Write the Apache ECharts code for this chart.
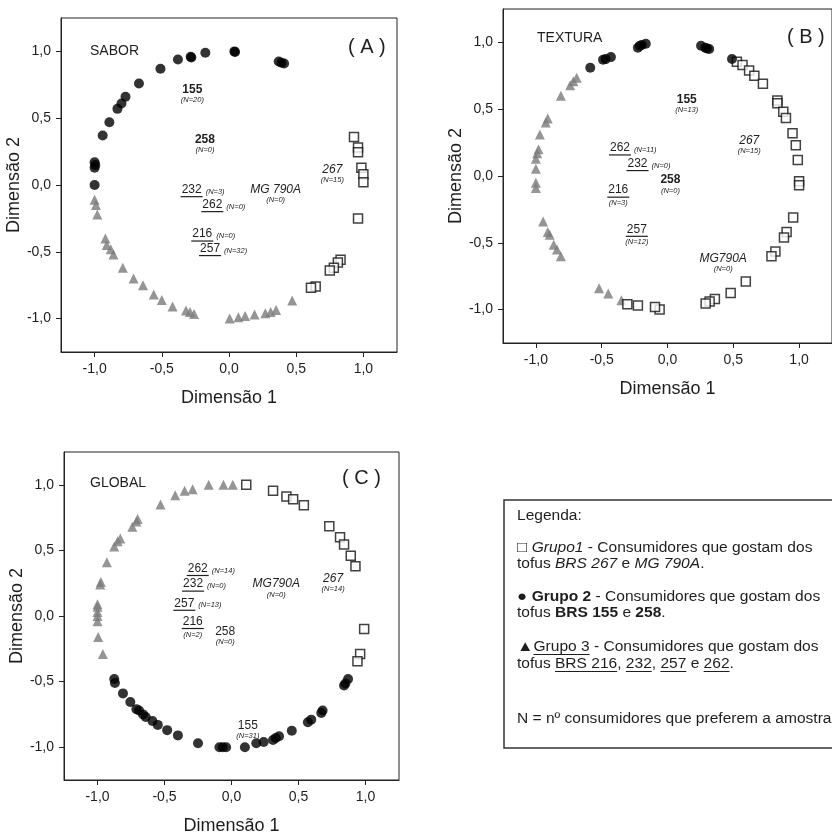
<!DOCTYPE html>
<html><head><meta charset="utf-8">
<script src="https://cdn.jsdelivr.net/npm/echarts@6/dist/echarts.min.js"></script>
<style>html,body{margin:0;padding:0;background:#fff}#c{width:832px;height:836px}</style>
</head><body><div id="c"></div>
<script>
// ---------- DATA ----------
const tickValues = [-1, -0.5, 0, 0.5, 1];

// Panel A - SABOR
const A_grupo1 = [[0.93,0.36],[0.96,0.28],[0.96,0.245],[0.985,0.13],[1.0,0.08],[1.0,0.02],[0.96,-0.25],[0.83,-0.56],[0.81,-0.58],[0.78,-0.62],[0.75,-0.64],[0.645,-0.76],[0.61,-0.77]];
const A_grupo2 = [[-1.0,0.0],[-1.0,0.13],[-0.995,0.15],[-1.0,0.17],[-0.94,0.37],[-0.89,0.47],[-0.83,0.57],[-0.80,0.61],[-0.77,0.66],[-0.67,0.76],[-0.51,0.87],[-0.38,0.94],[-0.285,0.96],[-0.28,0.955],[-0.176,0.99],[0.04,1.0],[0.045,0.995],[0.37,0.925],[0.39,0.915],[0.41,0.91]];
const A_grupo3 = [[-1.0,-0.11],[-0.99,-0.15],[-0.98,-0.22],[-0.92,-0.40],[-0.91,-0.45],[-0.88,-0.48],[-0.86,-0.52],[-0.79,-0.62],[-0.71,-0.70],[-0.64,-0.75],[-0.56,-0.82],[-0.50,-0.86],[-0.42,-0.91],[-0.32,-0.94],[-0.29,-0.95],[-0.26,-0.965],[0.005,-1.0],[0.07,-0.99],[0.12,-0.98],[0.19,-0.97],[0.27,-0.96],[0.31,-0.95],[0.35,-0.935],[0.47,-0.865]];
const A_products = ['155','258','232','262','216','257','MG 790A','267'];
const A_counts = [20,0,3,0,0,32,0,15];
const A_productXY = [[-0.273,0.713],[-0.179,0.339],[-0.278,-0.035],[-0.124,-0.147],[-0.199,-0.367],[-0.141,-0.476],[0.347,-0.035],[0.769,0.115]];

// Panel B - TEXTURA
const B_grupo1 = [[0.527,0.855],[0.57,0.83],[0.62,0.79],[0.66,0.75],[0.725,0.69],[0.835,0.565],[0.835,0.545],[0.88,0.48],[0.90,0.435],[0.95,0.32],[0.975,0.23],[0.99,0.12],[1.0,-0.04],[1.0,-0.07],[0.955,-0.31],[0.905,-0.42],[0.885,-0.46],[0.82,-0.565],[0.79,-0.60],[0.595,-0.79],[0.48,-0.875],[0.36,-0.92],[0.32,-0.94],[0.29,-0.955],[-0.06,-1.0],[-0.095,-0.98],[-0.225,-0.97],[-0.305,-0.96]];
const B_grupo2 = [[-0.587,0.81],[-0.49,0.87],[-0.47,0.875],[-0.43,0.89],[-0.225,0.96],[-0.21,0.975],[-0.195,0.98],[-0.165,0.99],[0.255,0.975],[0.287,0.96],[0.30,0.955],[0.317,0.95],[0.49,0.876]];
const B_grupo3 = [[-0.69,0.735],[-0.715,0.71],[-0.74,0.68],[-0.81,0.60],[-0.91,0.43],[-0.925,0.40],[-0.97,0.31],[-0.98,0.20],[-0.99,0.17],[-1.0,0.13],[-1.0,0.055],[-1.0,-0.05],[-1.0,-0.09],[-0.945,-0.34],[-0.91,-0.42],[-0.895,-0.44],[-0.865,-0.515],[-0.84,-0.55],[-0.81,-0.60],[-0.52,-0.84],[-0.45,-0.88],[-0.35,-0.93]];
const B_products = ['155','267','262','232','258','216','257','MG790A'];
const B_counts = [13,15,11,0,0,3,12,0];
const B_productXY = [[0.146,0.573],[0.621,0.267],[-0.361,0.21],[-0.228,0.093],[0.022,-0.031],[-0.374,-0.106],[-0.233,-0.399],[0.423,-0.615]];

// Panel C - GLOBAL
const C_grupo1 = [[0.11,1.0],[0.31,0.955],[0.41,0.91],[0.46,0.89],[0.54,0.845],[0.73,0.685],[0.81,0.60],[0.84,0.545],[0.89,0.46],[0.925,0.38],[0.99,-0.10],[0.96,-0.29],[0.94,-0.345]];
const C_grupo2 = [[0.87,-0.48],[0.85,-0.515],[0.84,-0.53],[0.68,-0.72],[0.67,-0.74],[0.595,-0.79],[0.57,-0.81],[0.45,-0.875],[0.355,-0.917],[0.33,-0.93],[0.31,-0.945],[0.24,-0.96],[0.185,-0.97],[0.10,-1.0],[-0.04,-1.0],[-0.065,-1.0],[-0.09,-1.0],[-0.25,-0.97],[-0.40,-0.91],[-0.48,-0.87],[-0.55,-0.83],[-0.59,-0.80],[-0.64,-0.77],[-0.66,-0.75],[-0.69,-0.72],[-0.71,-0.71],[-0.755,-0.655],[-0.81,-0.59],[-0.87,-0.51],[-0.875,-0.48]];
const C_grupo3 = [[-0.96,-0.29],[-0.995,-0.16],[-1.0,-0.04],[-1.0,0.0],[-1.0,0.03],[-1.0,0.07],[-1.0,0.09],[-0.98,0.24],[-0.975,0.26],[-0.93,0.41],[-0.875,0.53],[-0.85,0.57],[-0.83,0.59],[-0.74,0.68],[-0.71,0.72],[-0.70,0.74],[-0.53,0.85],[-0.42,0.92],[-0.35,0.955],[-0.29,0.967],[-0.17,1.0],[-0.06,1.0],[0.01,1.0]];
const C_products = ['262','232','257','216','258','MG790A','267','155'];
const C_counts = [14,0,13,2,0,0,14,31];
const C_productXY = [[-0.252,0.362],[-0.287,0.243],[-0.352,0.097],[-0.289,-0.042],[-0.047,-0.117],[0.334,0.243],[0.758,0.286],[0.122,-0.836]];

// ---------- STYLE / LAYOUT ----------
const FF = "'Liberation Sans', Arial, Helvetica, sans-serif";
const INK = '#1e1e1e';
// text formats of product labels: b=bold, i=italic, u=underline; R = count at right, otherwise below
const annotFormat = {
  A: ['b','b','uR','uR','uR','uR','i','i'],
  B: ['b','i','uR','uR','b','u','u','i'],
  C: ['uR','uR','uR','u','','i','i','']
};
const mctx = document.createElement('canvas').getContext('2d');
function tw(t, size, it, bd) {
  mctx.font = (it ? 'italic ' : '') + (bd ? 'bold ' : '') + size + 'px ' + FF;
  return mctx.measureText(t).width;
}
const fmtTick = v => v.toFixed(1).replace('.', ',');

const panels = [
  { key:'A', grid:{left:61, top:18, width:336, height:334}, g1:A_grupo1, g2:A_grupo2, g3:A_grupo3, names:A_products, counts:A_counts, xy:A_productXY, yGap:34 },
  { key:'B', grid:{left:503, top:9, width:337, height:334}, g1:B_grupo1, g2:B_grupo2, g3:B_grupo3, names:B_products, counts:B_counts, xy:B_productXY, yGap:32 },
  { key:'C', grid:{left:64, top:452, width:335, height:330}, g1:C_grupo1, g2:C_grupo2, g3:C_grupo3, names:C_products, counts:C_counts, xy:C_productXY, yGap:33 }
];

const grids = [], xAxes = [], yAxes = [], series = [];
panels.forEach((p, i) => {
  grids.push(Object.assign({ show:true, borderColor:'#222', borderWidth:1, backgroundColor:'transparent' }, p.grid));
  const common = {
    gridIndex:i, type:'value', min:-1.25, max:1.25, nameLocation:'middle',
    nameTextStyle:{ fontSize:18, color:INK, fontFamily:FF },
    axisLine:{ show:true, onZero:false, lineStyle:{ color:'#222', width:1 } },
    axisTick:{ show:true, inside:false, length:5, customValues:tickValues, lineStyle:{ color:'#222', width:1 } },
    axisLabel:{ customValues:tickValues, formatter:fmtTick, fontSize:14, color:INK, fontFamily:FF, margin:10 },
    splitLine:{ show:false }
  };
  xAxes.push(Object.assign({}, common, { name:'Dimensão 1', nameGap:37 }));
  yAxes.push(Object.assign({}, common, { name:'Dimensão 2', nameGap:p.yGap }));
  series.push({ type:'scatter', xAxisIndex:i, yAxisIndex:i, data:p.g3, symbol:'triangle', symbolSize:10,
    itemStyle:{ color:'#7a7a7a' }, silent:true, z:2 });
  series.push({ type:'scatter', xAxisIndex:i, yAxisIndex:i, data:p.g1, symbol:'rect', symbolSize:9,
    itemStyle:{ color:'#fff', borderColor:'#111', borderWidth:1.5 }, silent:true, z:3 });
  series.push({ type:'scatter', xAxisIndex:i, yAxisIndex:i, data:p.g2, symbol:'circle', symbolSize:10,
    itemStyle:{ color:'#000' }, silent:true, z:4 });
  const fm = annotFormat[p.key];
  series.push({
    type:'custom', xAxisIndex:i, yAxisIndex:i, data:p.xy, silent:true, z:5,
    renderItem:(params, api) => {
      const c = api.coord([api.value(0), api.value(1)]);
      const k = params.dataIndex, f = fm[k], name = p.names[k];
      const it = f.includes('i'), bd = f.includes('b'), ul = f.includes('u'), right = f.includes('R');
      const fs = 12, w = tw(name, fs, it, bd);
      const ch = [{ type:'text', x:c[0], y:c[1], style:{ text:name, fontSize:fs, fontStyle:it?'italic':'normal',
        fontWeight:bd?'bold':'normal', fontFamily:FF, fill:INK, align:'center', verticalAlign:'middle' } }];
      if (ul) ch.push({ type:'line', shape:{ x1:c[0]-w/2-1, y1:c[1]+7, x2:c[0]+w/2+1, y2:c[1]+7 }, style:{ stroke:INK, lineWidth:1.2 } });
      const nt = '(N=' + p.counts[k] + ')';
      const ns = { text:nt, fontSize:7.5, fontStyle:'italic', fontFamily:FF, fill:INK, verticalAlign:'middle' };
      if (right) ch.push({ type:'text', x:c[0]+w/2+4, y:c[1]+2, style:Object.assign({ align:'left' }, ns) });
      else ch.push({ type:'text', x:c[0], y:c[1]+(ul?13:10.5), style:Object.assign({ align:'center' }, ns) });
      return { type:'group', children:ch };
    }
  });
});

// ---------- LEGEND ----------
const LFS = 14;
const legendLines = [
  [['Legenda:','']],
  [['\u25A1 ','g'],['Grupo1','i'],[' - Consumidores que gostam dos','']],
  [['tofus ',''],['BRS 267','i'],[' e ',''],['MG 790A','i'],['.','']],
  [['\u25CF ','g'],['Grupo 2','b'],[' - Consumidores que gostam dos','']],
  [['tofus ',''],['BRS 155','b'],[' e ',''],['258','b'],['.','']],
  [['\u25B2','g'],['Grupo 3','u'],[' - Consumidores que gostam dos','']],
  [['tofus ',''],['BRS 216','u'],[', ',''],['232','u'],[', ',''],['257','u'],[' e ',''],['262','u'],['.','']],
  [['N = n\u00BA consumidores que preferem a amostra','']]
];
const legendY = [516, 548, 564, 597, 613, 647, 664, 719];
const legendChildren = [];
legendLines.forEach((segs, li) => {
  let x = 0; const y = legendY[li];
  segs.forEach(([t, f]) => {
    const it = f.includes('i'), bd = f.includes('b'), ul = f.includes('u'), gl = f.includes('g');
    const fs = gl ? 15 : LFS;
    const w = tw(t, fs, it, bd);
    legendChildren.push({ type:'text', x:x, y:y, style:{ text:t, fontSize:fs, fontStyle:it?'italic':'normal',
      fontWeight:bd?'bold':'normal', fontFamily:FF, fill:INK, align:'left', verticalAlign:'middle' } });
    if (ul) legendChildren.push({ type:'line', shape:{ x1:x, y1:y+7.5, x2:x+w, y2:y+7.5 }, style:{ stroke:INK, lineWidth:1 } });
    x += w;
  });
});

const titleStyle = (t, fs) => ({ text:t, fontSize:fs, fontFamily:FF, fill:INK, verticalAlign:'middle' });
const graphic = [
  { type:'text', x:90, y:51, style:titleStyle('SABOR', 14) },
  { type:'text', x:348, y:47, style:titleStyle('( A )', 20) },
  { type:'text', x:537, y:38, style:titleStyle('TEXTURA', 14) },
  { type:'text', x:787, y:37, style:titleStyle('( B )', 20) },
  { type:'text', x:90, y:483, style:titleStyle('GLOBAL', 14) },
  { type:'text', x:342, y:478, style:titleStyle('( C )', 20) },
  { type:'rect', shape:{ x:504, y:500, width:340, height:248 }, style:{ fill:'#fff', stroke:'#333', lineWidth:1.5 } },
  { type:'group', x:517, y:0, scaleX:1.11, children:legendChildren }
];

const chart = echarts.init(document.getElementById('c'));
chart.setOption({
  animation:false,
  backgroundColor:'#fff',
  grid:grids, xAxis:xAxes, yAxis:yAxes, series:series, graphic:graphic
});
</script></body></html>
